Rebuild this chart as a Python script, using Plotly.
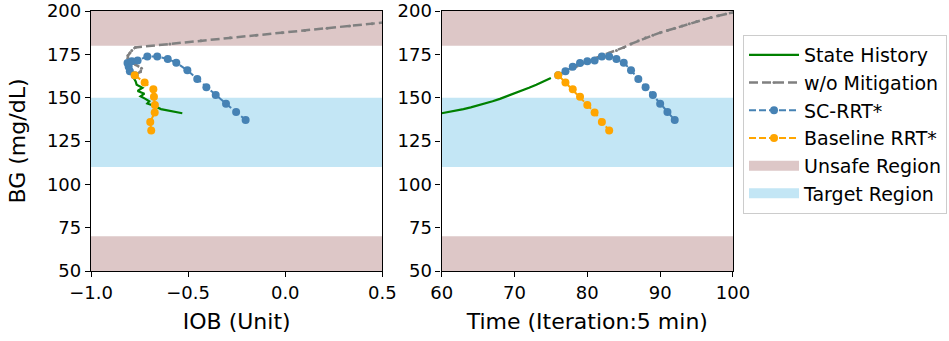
import plotly.graph_objects as go
from plotly.subplots import make_subplots

# ---------------- data ----------------
state_time = [60, 61, 62, 63, 64, 65, 66, 67, 68, 69, 70, 71, 72, 73, 74, 75]
state_bg = [141.0, 141.7, 142.5, 143.4, 144.4, 145.5, 146.6, 147.9, 149.3, 150.8,
            152.3, 153.9, 155.7, 157.5, 159.4, 161.4]
state_iob = [-0.53, -0.56, -0.59, -0.64, -0.66, -0.68, -0.71, -0.70, -0.72, -0.745,
             -0.725, -0.76, -0.735, -0.765, -0.77, -0.78]

nomit_time = [76, 77, 78, 79, 80, 81, 82, 83, 84, 85, 86, 87, 88, 89, 90, 91, 92,
              93, 94, 95, 96, 97, 98, 99, 100]
nomit_bg = [163, 165, 167, 169, 171, 172.7, 174.3, 175.8, 177.2, 179, 181, 182.8,
            184.5, 186, 187.5, 188.8, 190.1, 191.4, 192.7, 194, 195.2, 196.3, 197.3,
            198.3, 199.2]
nomit_iob = [-0.775, -0.745, -0.74, -0.77, -0.80, -0.81, -0.81, -0.80, -0.79, -0.772,
             -0.594, -0.434, -0.283, -0.149, -0.016, 0.10, 0.215, 0.331, 0.447, 0.562,
             0.669, 0.767, 0.856, 0.945, 1.025]

sc_time = [76, 77, 78, 79, 80, 81, 82, 83, 84, 85, 86, 87, 88, 89, 90, 91, 92]
sc_bg = [163, 165.2, 167.9, 170, 171, 171.5, 173.7, 173.7, 172.3, 170.2, 165.8,
         160.8, 156, 151.5, 146.5, 141.7, 137.1]
sc_iob = [-0.775, -0.80, -0.806, -0.812, -0.79, -0.76, -0.71, -0.659, -0.605, -0.561,
          -0.504, -0.453, -0.406, -0.358, -0.305, -0.253, -0.204]

base_time = [76, 77, 78, 79, 80, 81, 82, 83]
base_bg = [163, 158.8, 154.8, 150.6, 145.8, 141.5, 136, 131]
base_iob = [-0.775, -0.724, -0.679, -0.676, -0.671, -0.672, -0.695, -0.690]

unsafe_low = [50, 70]
unsafe_high = [180, 200]
target = [110, 150]

iob_ticks = [-1.0, -0.5, 0.0, 0.5]
time_ticks = [60, 70, 80, 90, 100]
bg_ticks = [50, 75, 100, 125, 150, 175, 200]

# ---------------- style ----------------
GREEN = "#008000"
GRAY = "#808080"
BLUE = "#4682B4"
ORANGE = "#FFA500"
UNSAFE = "rgba(188,143,143,0.5)"
TARGET = "rgba(135,206,235,0.5)"
FONT = "DejaVu Sans"

fig = make_subplots(rows=1, cols=2, horizontal_spacing=0.0923)

for col, xs_key in enumerate(["iob", "time"], start=1):
    show = col == 1
    if xs_key == "iob":
        sx, gx, bx, ox = state_iob, nomit_iob, sc_iob, base_iob
    else:
        sx, gx, bx, ox = state_time, nomit_time, sc_time, base_time
    fig.add_trace(go.Scatter(x=sx, y=state_bg, mode="lines", name="State History",
                             line=dict(color=GREEN, width=2.2), showlegend=show,
                             legendgroup="s"), row=1, col=col)
    fig.add_trace(go.Scatter(x=gx, y=nomit_bg, mode="lines+markers", name="w/o Mitigation",
                             line=dict(color=GRAY, width=2.5, dash="9px,4px"),
                             marker=dict(size=3, color=GRAY), showlegend=show,
                             legendgroup="g"), row=1, col=col)
    fig.add_trace(go.Scatter(x=bx, y=sc_bg, mode="lines+markers", name="SC-RRT*",
                             line=dict(color=BLUE, width=2, dash="7px,3px"),
                             marker=dict(size=8, color=BLUE), showlegend=show,
                             legendgroup="b"), row=1, col=col)
    fig.add_trace(go.Scatter(x=ox, y=base_bg, mode="lines+markers", name="Baseline RRT*",
                             line=dict(color=ORANGE, width=2, dash="7px,3px"),
                             marker=dict(size=8, color=ORANGE), showlegend=show,
                             legendgroup="o"), row=1, col=col)

# legend entries for the shaded regions (thick line swatches)
fig.add_trace(go.Scatter(x=[None], y=[None], mode="lines",
                         line=dict(color=UNSAFE, width=14),
                         name="Unsafe Region", showlegend=True), row=1, col=1)
fig.add_trace(go.Scatter(x=[None], y=[None], mode="lines",
                         line=dict(color=TARGET, width=14),
                         name="Target Region", showlegend=True), row=1, col=1)

shapes = []
for xr in ["x domain", "x2 domain"]:
    yr = "y" if xr == "x domain" else "y2"
    for rng in [unsafe_high, unsafe_low]:
        shapes.append(dict(type="rect", xref=xr, yref=yr,
                           x0=0, x1=1, y0=rng[0], y1=rng[1], fillcolor=UNSAFE,
                           line=dict(width=0), layer="below"))
    shapes.append(dict(type="rect", xref=xr, yref=yr,
                       x0=0, x1=1, y0=target[0], y1=target[1], fillcolor=TARGET,
                       line=dict(width=0), layer="below"))
fig.update_layout(shapes=shapes)

axis_common = dict(showline=True, linecolor="black", linewidth=1.3, mirror=True,
                   ticks="outside", ticklen=5, tickwidth=1.2, tickcolor="black",
                   showgrid=False, zeroline=False, automargin=False,
                   tickfont=dict(family=FONT, size=18, color="black"))

fig.update_xaxes(axis_common)
fig.update_yaxes(axis_common)
fig.update_xaxes(range=[-1.0, 0.5], tickvals=iob_ticks, tickformat=".1f",
                 title=dict(text="IOB (Unit)", font=dict(family=FONT, size=22, color="black"),
                            standoff=11), row=1, col=1)
fig.update_xaxes(range=[60, 100], tickvals=time_ticks,
                 title=dict(text="Time (Iteration:5 min)",
                            font=dict(family=FONT, size=22, color="black"), standoff=11),
                 row=1, col=2)
fig.update_yaxes(range=[50, 200], tickvals=bg_ticks)
fig.update_yaxes(title=dict(text="BG (mg/dL)", font=dict(family=FONT, size=22, color="black"),
                            standoff=15), row=1, col=1)

fig.update_layout(
    width=949, height=341,
    margin=dict(l=91, r=216, t=11, b=70, pad=0, autoexpand=False),
    paper_bgcolor="white", plot_bgcolor="white",
    font=dict(family=FONT, size=19, color="black"),
    legend=dict(x=1.0156, y=0.9077, xanchor="left", yanchor="top",
                bordercolor="#cccccc", borderwidth=1, bgcolor="white",
                font=dict(family=FONT, size=19, color="black"),
                itemwidth=50, tracegroupgap=0),
)

fig.write_html("out.html", config={"displayModeBar": False},
               post_script="document.body.style.margin='0';")
